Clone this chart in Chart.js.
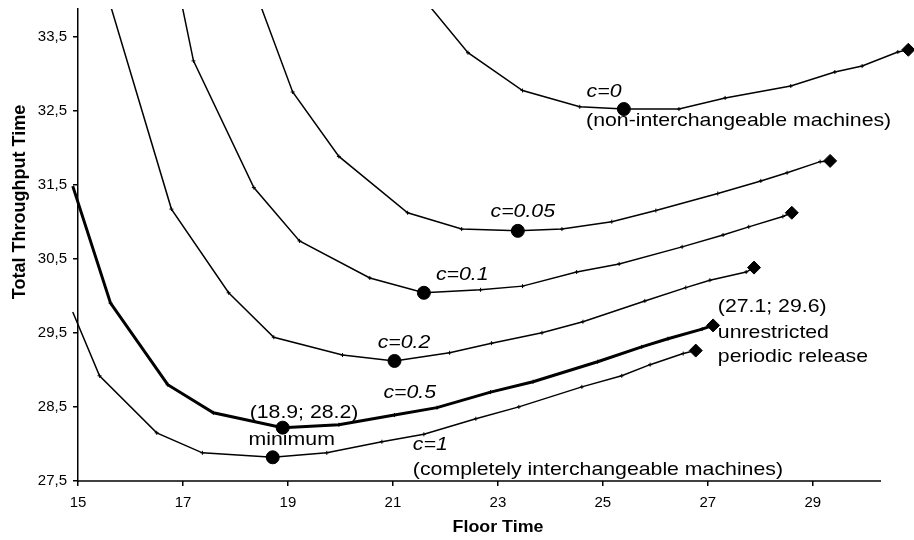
<!DOCTYPE html>
<html>
<head>
<meta charset="utf-8">
<title>Total Throughput Time vs Floor Time</title>
<script src="https://cdn.jsdelivr.net/npm/chart.js@4.4.1/dist/chart.umd.min.js"></script>
<style>
  html, body { margin: 0; padding: 0; background: #fff; }
  #wrap { width: 914px; height: 540px; }
</style>
</head>
<body>
<div id="wrap"><canvas id="chart" width="914" height="540"></canvas></div>
<script>
// values (first points of the upper curves lie above the plot and get clipped)
const floorC0 = [21.36, 22.43, 23.47, 24.56, 25.40, 26.45, 27.33, 28.58, 29.42, 29.94, 30.62, 30.82];
const timeC0 = [34.2, 33.28, 32.77, 32.55, 32.52, 32.52, 32.67, 32.83, 33.02, 33.10, 33.29, 33.32];

const floorC005 = [18.33, 19.09, 19.97, 21.28, 22.31, 23.38, 24.22, 25.17, 26.01, 27.19, 28.01, 28.51, 29.14, 29.33];
const timeC005 = [34.2, 32.75, 31.88, 31.12, 30.90, 30.876, 30.90, 31.00, 31.15, 31.38, 31.55, 31.66, 31.81, 31.82];

const floorC01 = [16.90, 17.20, 18.35, 19.22, 20.56, 21.59, 22.67, 23.47, 24.50, 25.31, 26.51, 27.29, 27.78, 28.43, 28.60];
const timeC01 = [34.2, 33.17, 31.46, 30.74, 30.24, 30.04, 30.08, 30.13, 30.32, 30.43, 30.66, 30.82, 30.93, 31.07, 31.12];

const floorC02 = [15.50, 16.78, 17.87, 18.73, 20.04, 21.03, 22.08, 22.88, 23.84, 24.62, 25.80, 26.58, 27.04, 27.73, 27.88];
const timeC02 = [34.2, 31.17, 30.04, 29.44, 29.20, 29.12, 29.23, 29.36, 29.50, 29.65, 29.93, 30.11, 30.21, 30.32, 30.38];

const floorC05 = [14.90, 15.62, 16.71, 17.58, 18.90, 19.97, 21.03, 21.84, 22.86, 23.67, 24.90, 25.74, 26.24, 26.89, 27.10];
const timeC05 = [31.48, 29.90, 28.80, 28.42, 28.22, 28.26, 28.39, 28.49, 28.70, 28.84, 29.11, 29.31, 29.42, 29.55, 29.60];

const floorC1 = [14.90, 15.41, 16.50, 17.37, 18.71, 19.74, 20.79, 21.59, 22.58, 23.40, 24.60, 25.36, 25.90, 26.53, 26.77];
const timeC1 = [29.78, 28.92, 28.15, 27.88, 27.82, 27.88, 28.03, 28.13, 28.34, 28.50, 28.77, 28.92, 29.07, 29.22, 29.26];

// index of the minimum (big dot) on each curve; the last point of each curve gets a diamond
const minIndex = [4, 5, 5, 5, 4, 4];

const xTicks = [15, 17, 19, 21, 23, 25, 27, 29];
const yTicks = [27.5, 28.5, 29.5, 30.5, 31.5, 32.5, 33.5];
const xAxisEnd = 30.3;   // the drawn x axis stops here, the plot runs a little further

// text labels: [text, floor time, throughput time, italic]
const notes = [
    ['c=0', 24.69, 32.75, true],
    ['(non-interchangeable machines)', 24.68, 32.36, false],
    ['c=0.05', 22.86, 31.13, true],
    ['c=0.1', 21.82, 30.28, true],
    ['c=0.2', 20.71, 29.36, true],
    ['c=0.5', 20.82, 28.69, true],
    ['(18.9; 28.2)', 18.27, 28.42, false],
    ['minimum', 18.25, 28.05, false],
    ['c=1', 21.38, 27.99, true],
    ['(completely interchangeable machines)', 21.38, 27.65, false],
    ['(27.1; 29.6)', 27.19, 29.85, false],
    ['unrestricted', 27.19, 29.50, false],
    ['periodic release', 27.19, 29.17, false]
];

const FONT = '"Liberation Sans", Arial, sans-serif';

document.addEventListener("DOMContentLoaded", function () {
    const ctx = document.getElementById('chart').getContext('2d');

    const curves = [
        { x: floorC0, y: timeC0, width: 1.5 },
        { x: floorC005, y: timeC005, width: 1.5 },
        { x: floorC01, y: timeC01, width: 1.5 },
        { x: floorC02, y: timeC02, width: 1.5 },
        { x: floorC05, y: timeC05, width: 3 },
        { x: floorC1, y: timeC1, width: 1.5 }
    ];

    const lineSets = curves.map(c => ({
        data: c.x.map((v, i) => ({ x: v, y: c.y[i] })),
        showLine: true,
        borderColor: '#000',
        borderWidth: c.width,
        pointStyle: 'cross',
        pointRadius: 2,
        pointBorderWidth: 1,
        pointBorderColor: '#000',
        clip: { left: 10, top: 0, right: 0, bottom: 0 }
    }));

    const minima = {
        data: curves.map((c, k) => ({ x: c.x[minIndex[k]], y: c.y[minIndex[k]] })),
        showLine: false,
        pointStyle: 'circle',
        pointRadius: 6.5,
        backgroundColor: '#000',
        borderColor: '#000'
    };

    const ends = {
        data: curves.map(c => ({ x: c.x[c.x.length - 1], y: c.y[c.y.length - 1] })),
        showLine: false,
        pointStyle: 'rectRot',
        pointRadius: 6.5,
        backgroundColor: '#000',
        borderColor: '#000',
        clip: false
    };

    function stretchText(c, text, px, py, font, sx, align) {
        c.save();
        c.translate(px, py);
        c.scale(sx, 1);
        c.font = font;
        c.fillStyle = '#000';
        c.textAlign = align;
        c.textBaseline = 'middle';
        c.fillText(text, 0, 0);
        c.restore();
    }

    function noPadding(s) {
        s.paddingTop = 0;
        s.paddingBottom = 0;
        s.paddingLeft = 0;
        s.paddingRight = 0;
    }

    const labelPlugin = {
        id: 'labels',
        beforeDatasetsDraw(chart) {
            // x axis line, only up to xAxisEnd
            const c = chart.ctx;
            const xs = chart.scales.x;
            const yb = chart.chartArea.bottom;
            c.save();
            c.strokeStyle = '#000';
            c.lineWidth = 1.5;
            c.beginPath();
            c.moveTo(chart.chartArea.left - 0.75, yb);
            c.lineTo(xs.getPixelForValue(xAxisEnd), yb);
            c.stroke();
            c.restore();
        },
        afterDraw(chart) {
            const c = chart.ctx;
            const xs = chart.scales.x;
            const ys = chart.scales.y;
            notes.forEach(n => {
                const font = (n[3] ? 'italic ' : '') + '18.5px ' + FONT;
                stretchText(c, n[0], xs.getPixelForValue(n[1]), ys.getPixelForValue(n[2]), font, 1.15, 'left');
            });
            // axis titles
            stretchText(c, 'Floor Time', 498, 527, 'bold 17px ' + FONT, 1.05, 'center');
            c.save();
            c.translate(20, 202);
            c.rotate(-Math.PI / 2);
            c.font = 'bold 18px ' + FONT;
            c.fillStyle = '#000';
            c.textAlign = 'center';
            c.textBaseline = 'middle';
            c.fillText('Total Throughput Time', 0, 0);
            c.restore();
        }
    };

    new Chart(ctx, {
        type: 'scatter',
        data: { datasets: lineSets.concat([minima, ends]) },
        options: {
            responsive: false,
            animation: false,
            devicePixelRatio: 1,
            layout: { autoPadding: false, padding: { top: 9, right: 2, left: 0, bottom: 0 } },
            plugins: {
                legend: { display: false },
                tooltip: { enabled: false }
            },
            scales: {
                x: {
                    type: 'linear',
                    min: 15,
                    max: 30.89,
                    afterBuildTicks: s => { s.ticks = xTicks.map(v => ({ value: v })); },
                    afterFit: s => { s.height = 59; noPadding(s); },
                    grid: { drawOnChartArea: false, tickLength: 5, color: '#000', lineWidth: 1.5 },
                    border: { display: false },
                    ticks: {
                        color: '#000',
                        padding: 8,
                        autoSkip: false,
                        maxRotation: 0,
                        font: { family: FONT, size: 15 },
                        callback: v => String(v)
                    }
                },
                y: {
                    type: 'linear',
                    min: 27.5,
                    max: 33.87,
                    afterBuildTicks: s => { s.ticks = yTicks.map(v => ({ value: v })); },
                    afterFit: s => { s.width = 78; noPadding(s); },
                    grid: { drawOnChartArea: false, tickLength: 5, color: '#000', lineWidth: 1.5 },
                    border: { color: '#000', width: 1.5 },
                    ticks: {
                        color: '#000',
                        padding: 6,
                        autoSkip: false,
                        font: { family: FONT, size: 15 },
                        callback: v => v.toFixed(1).replace('.', ',')
                    }
                }
            }
        },
        plugins: [labelPlugin]
    });
});
</script>
</body>
</html>
